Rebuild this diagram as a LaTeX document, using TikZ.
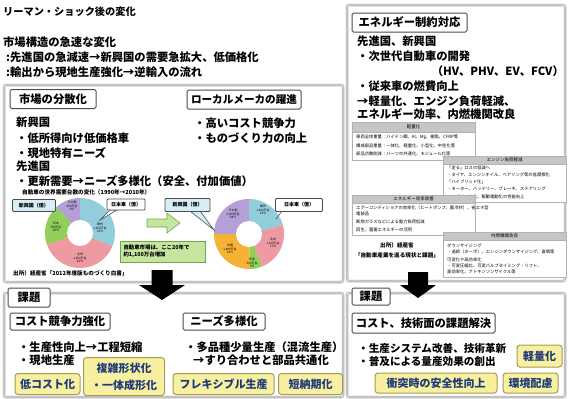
\documentclass[tikz,border=0pt]{standalone}
\usepackage{fontspec}
\setmainfont{Noto Sans CJK JP}
\definecolor{pblue}{HTML}{92CDDC}
\definecolor{ppink}{HTML}{EE9AA2}
\definecolor{pgreen}{HTML}{8FCF5A}
\definecolor{ppurple}{HTML}{B4A0D6}
\definecolor{porange}{HTML}{F5B335}
\definecolor{ybg}{HTML}{F7F0A0}
\definecolor{yline}{HTML}{A89A50}
\definecolor{navy}{HTML}{1F3A7A}
\definecolor{lbl}{HTML}{D6EEF8}
\definecolor{gbox}{HTML}{C6E6A0}
\definecolor{gline}{HTML}{6EA84A}
\newcommand\pieseg[4]{\fill[#4] (0,0) -- (#1:#3) arc[start angle=#1, end angle=#2, radius=#3] -- cycle;}
\tikzset{
  t/.style={anchor=west, inner sep=0pt, font=\fontsize{11.3}{13}\selectfont\bfseries},
  frame/.style={draw=gray!65, line width=0.8pt, double=gray!15, double distance=0.9pt, rounded corners=2pt},
  tbox/.style={draw=black!70, line width=1pt, fill=white, rounded corners=1.5pt, inner sep=0pt, font=\fontsize{11.3}{13}\selectfont\bfseries},
  ybox/.style={draw=yline, line width=1pt, fill=ybg, rounded corners=3pt, inner sep=0pt, text=navy, align=center, font=\fontsize{11}{17}\selectfont\bfseries},
  lbox/.style={draw=black!70, line width=0.8pt, rounded corners=1pt, inner sep=0pt, font=\fontsize{5}{6}\selectfont\bfseries},
  tiny/.style={anchor=west, inner sep=0pt, font=\fontsize{4.3}{5}\selectfont},
  thead/.style={fill=gray!45, draw=gray!60, line width=0.4pt, inner sep=0pt, font=\fontsize{4.5}{5}\selectfont},
  tbody/.style={fill=white, draw=gray!60, line width=0.6pt},
  pl/.style={inner sep=0pt, align=center, font=\fontsize{3}{3.6}\selectfont},
  bigarrow/.style={fill=black},
}
\begin{document}
\begin{tikzpicture}[x=1pt,y=-1pt]
\useasboundingbox (0,0) rectangle (568,399);
\fill[white] (0,0) rectangle (568,399);

% ---------- heading
\node[t, font=\fontsize{10.2}{12}\selectfont\bfseries] (h0) at (3,12) {リーマン・ショック後の変化};
\node[t] (h1) at (3,42) {市場構造の急速な変化};
\node[t] (h2) at (6,57) {:先進国の急減速→新興国の需要急拡大、低価格化};
\node[t] (h3) at (6,72) {:輸出から現地生産強化→逆輸入の流れ};

% ---------- frames
\draw[frame] (4,85) rectangle (343,282);
\draw[frame] (4,293) rectangle (343,397);
\draw[frame] (347,5) rectangle (565,281);
\draw[frame] (347,293) rectangle (565,397);

% ---------- upper left
\node[tbox, minimum width=86pt, minimum height=19pt] (b1) at (53,99) {市場の分散化};
\node[tbox, minimum width=114pt, minimum height=19pt, font=\fontsize{10.6}{12}\selectfont\bfseries] (b2) at (244,99.5) {ローカルメーカの躍進};
\node[t] (l1) at (16,122) {新興国};
\node[t] (l2) at (16,138) {・低所得向け低価格車};
\node[t] (l3) at (16,153) {・現地特有ニーズ};
\node[t] (l4) at (16,166) {先進国};
\node[t] (l5) at (16,181) {・更新需要→ニーズ多様化（安全、付加価値）};
\node[t, font=\fontsize{5.6}{6}\selectfont\bfseries] (l6) at (22,192) {自動車の世界需要台数の変化（1990年→2010年）};
\node[t] (r1) at (194,123) {・高いコスト競争力};
\node[t] (r2) at (194,138) {・ものづくり力の向上};

% ---------- pie 1
\begin{scope}[shift={(80,233)}, yscale=-1]
  \pieseg{-22}{90}{35}{pblue}
  \pieseg{90}{132}{35}{ppurple}
  \pieseg{132}{200}{35}{pgreen}
  \pieseg{200}{338}{35}{ppink}
  \fill[white] (0,0) circle[radius=13];
\end{scope}
\node[pl] (p1a) at (100,228) {欧州\\1,355万台\\34\%};
\node[pl] (p1b) at (80,258) {北米\\1,650万台\\42\%};
\node[pl] (p1c) at (56,227) {日本\\780万台\\20\%};
\node[pl] (p1d) at (72,206) {その他\\230万台\\6\%};

% ---------- pie 2
\begin{scope}[shift={(249,234)}, yscale=-1]
  \pieseg{15}{90}{35}{pblue}
  \pieseg{90}{180}{35}{ppurple}
  \pieseg{180}{272}{35}{porange}
  \pieseg{272}{292}{35}{pgreen}
  \pieseg{292}{375}{35}{ppink}
  \fill[white] (0,0) circle[radius=13];
\end{scope}
\node[pl] (p2a) at (263,210) {欧州\\1,830万台\\25\%};
\node[pl] (p2b) at (273,243) {北米\\1,240万台\\17\%};
\node[pl] (p2c) at (252,263) {日本\\500万台\\7\%};
\node[pl] (p2d) at (230,249) {中国\\1,800万台\\25\%};
\node[pl] (p2e) at (233,214) {その他\\2,050万台\\28\%};

% ---------- pie labels / callouts
\node[lbox, fill=lbl, minimum width=43pt, minimum height=12pt] (c1) at (34,205.5) {新興国（億）};
\fill[white, draw=black!70, line width=0.6pt] (110,210) -- (100,220) -- (117,210) -- cycle;
\node[lbox, fill=white, minimum width=38pt, minimum height=11pt] (c2) at (126,204.5) {日本車（億）};
\fill[lbl, draw=black!70, line width=0.6pt] (190,211) -- (214,230) -- (200,211) -- cycle;
\node[lbox, fill=lbl, minimum width=45pt, minimum height=13pt] (c3) at (187.5,205) {新興国（億）};
\draw[black!70, line width=0.6pt] (282,211) -- (276,219);
\node[lbox, fill=white, minimum width=47pt, minimum height=13pt] (c4) at (299,205) {日本車（億）};

% ---------- green arrow & box
\fill[gbox, draw=gline, line width=0.6pt] (147,219) -- (167,219) -- (167,213) -- (180,223) -- (167,233) -- (167,227) -- (147,227) -- cycle;
\node[draw=gline, fill=gbox, line width=0.7pt, minimum width=85pt, minimum height=21pt, inner sep=0pt, align=left, text width=78pt, font=\fontsize{5.4}{7.5}\selectfont\bfseries] (gb) at (162.5,251.5) {自動車市場は、ここ20年で\\約1,100万台増加};
\node[t, font=\fontsize{5.6}{6}\selectfont\bfseries] (src1) at (13,273) {出所）経産省「2012年度版ものづくり白書」};

% ---------- lower left
\node[tbox, minimum width=100pt, minimum height=17pt] (k1) at (60,321.5) {コスト競争力強化};
\node[tbox, minimum width=82pt, minimum height=17pt] (k2) at (224,321.5) {ニーズ多様化};
\node[t] (k3) at (18,347) {・生産性向上→工程短縮};
\node[t] (k4) at (18,360) {・現地生産};
\node[t] (k5) at (185,347) {・多品種少量生産（混流生産）};
\node[t] (k6) at (193,360) {→すり合わせと部品共通化};
\node[ybox, minimum width=65pt, minimum height=21pt] (y1) at (47.5,384) {低コスト化};
\node[ybox, minimum width=81pt, minimum height=38pt] (y2) at (124,376.5) {複雑形状化\\・一体成形化};
\node[ybox, minimum width=101pt, minimum height=21pt] (y3) at (223.5,384) {フレキシブル生産};
\node[ybox, minimum width=64pt, minimum height=21pt] (y4) at (310.5,384) {短納期化};

% ---------- upper right
\node[tbox, minimum width=115pt, minimum height=19pt] (e1) at (409.5,22.5) {エネルギー制約対応};
\node[t] (e2) at (357,41) {先進国、新興国};
\node[t] (e3) at (357,56) {・次世代自動車の開発};
\node[t, anchor=east] (e4) at (564,71) {（HV、PHV、EV、FCV）};
\node[t] (e5) at (357,86) {・従来車の燃費向上};
\node[t] (e6) at (357,101) {→軽量化、エンジン負荷軽減、};
\node[t] (e7) at (357,114) {エネルギー効率、内燃機関改良};

% tables
\draw[tbody] (352,132) rectangle (475,160);
\node[thead, minimum width=123pt, minimum height=10pt] (th1) at (413.5,127) {軽量化};
\node[tiny] (t11) at (356,137) {車両全体重量：ハイテン鋼、Al、Mg、樹脂、CFRP等};
\node[tiny] (t12) at (356,146) {構成部品重量：一体化、軽量化、小型化、中空化等};
\node[tiny] (t13) at (356,154) {部品点数削減：パーツの共通化、モジュール化等};

\draw[tbody] (443,164) rectangle (566,202);
\node[thead, minimum width=123pt, minimum height=8pt] (th2) at (504.5,160) {エンジン負荷軽減};
\node[tiny] (t21) at (447,168) {「走る」ロスの低減へ};
\node[tiny] (t22) at (447,175) {・タイヤ、エンジンオイル、ベアリング等の低摩擦化};
\node[tiny] (t23) at (447,182) {「ハイブリッド化」};
\node[tiny] (t24) at (447,189) {・モーター、バッテリー、ブレーキ、ステアリング};
\node[tiny] (t25) at (447,197) {ハイブリッド化、駆動電動化の性能向上};

\draw[tbody] (352,203) rectangle (475,235);
\node[thead, minimum width=123pt, minimum height=8pt] (th3) at (413.5,199) {エネルギー効率改善};
\node[tiny] (t31) at (356,208) {エアーコンディショナの効率化（ヒートポンプ、蓄冷材）、省エネ型};
\node[tiny] (t32) at (356,214) {電装品};
\node[tiny] (t33) at (356,222) {断熱ガラスなどによる電力負荷低減};
\node[tiny] (t34) at (356,230) {回生、蓄電エネルギーの活用};

\draw[tbody] (443,240) rectangle (566,277);
\node[thead, minimum width=123pt, minimum height=8pt] (th4) at (504.5,236) {内燃機関改良};
\node[tiny] (t41) at (447,246) {ダウンサイジング};
\node[tiny] (t42) at (447,252) {・過給（ターボ）、エンジンダウンサイジング、直噴等};
\node[tiny] (t43) at (447,260) {可変化や高効率化};
\node[tiny] (t44) at (447,266) {・可変圧縮比、可変バルブタイミング・リフト、};
\node[tiny] (t45) at (447,272) {高効率化、アトキンソンサイクル等};

\node[inner sep=0pt, font=\fontsize{5.6}{6}\selectfont\bfseries] (src2a) at (397,245) {出所）経産省};
\node[inner sep=0pt, font=\fontsize{5.6}{6}\selectfont\bfseries] (src2b) at (397,255) {「自動車産業を巡る現状と課題」};

% ---------- lower right
\node[tbox, minimum width=143pt, minimum height=20pt] (s1) at (423.5,323) {コスト、技術面の課題解決};
\node[t, font=\fontsize{10.6}{12}\selectfont\bfseries] (s2) at (358,348) {・生産システム改善、技術革新};
\node[t, font=\fontsize{10.6}{12}\selectfont\bfseries] (s3) at (358,361) {・普及による量産効果の創出};
\node[ybox, minimum width=45pt, minimum height=22pt] (y5) at (539.5,356) {軽量化};
\node[ybox, minimum width=122pt, minimum height=20pt] (y6) at (436,383) {衝突時の安全性向上};
\node[ybox, minimum width=55pt, minimum height=20pt] (y7) at (530.5,383) {環境配慮};

% ---------- big arrows
\fill[bigarrow] (151.5,270) -- (172.5,270) -- (172.5,285) -- (185,285) -- (162,300) -- (139,285) -- (151.5,285) -- cycle;
\fill[bigarrow] (408,272) -- (428,272) -- (428,285) -- (436,285) -- (418,298) -- (400,285) -- (408,285) -- cycle;

% ---------- tabs
\node[tbox, minimum width=42pt, minimum height=19pt] (tab1) at (29,297.5) {課題};
\node[tbox, minimum width=38pt, minimum height=17pt] (tab2) at (371,296.5) {課題};
\end{tikzpicture}
\end{document}
